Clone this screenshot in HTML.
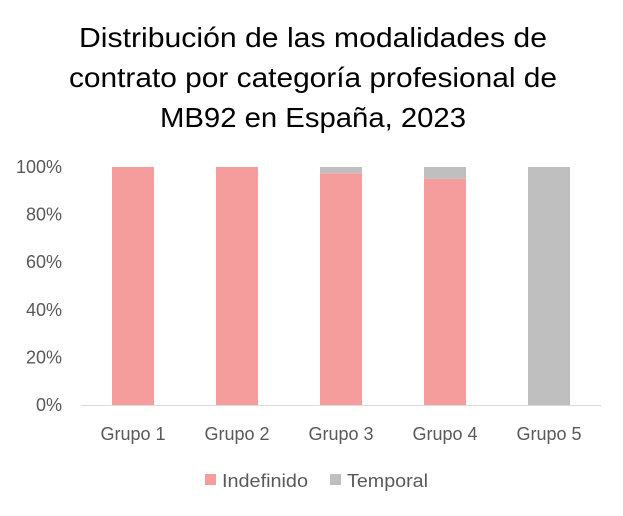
<!DOCTYPE html>
<html><head><meta charset="utf-8"><style>
body{margin:0;background:#fff;font-family:"Liberation Sans",sans-serif}
</style></head><body>
<svg width="623" height="511" xmlns="http://www.w3.org/2000/svg">
<rect width="623" height="511" fill="#fff"/>
<g font-size="28" text-anchor="middle" fill="#000">
<text x="313" y="47" textLength="468" lengthAdjust="spacingAndGlyphs">Distribución de las modalidades de</text>
<text x="313" y="87" textLength="488" lengthAdjust="spacingAndGlyphs">contrato por categoría profesional de</text>
<text x="313" y="127" textLength="306" lengthAdjust="spacingAndGlyphs">MB92 en España, 2023</text>
</g>
<g id="yaxis"></g>
<g id="bars"></g>
<line x1="81" y1="405.5" x2="601" y2="405.5" stroke="#d9d9d9"/>
<g id="xaxis"></g>
<g font-size="18" fill="#595959">
<g><rect x="205" y="474" width="11" height="11" fill="#f59d9d"/><text x="222" y="487" textLength="86" lengthAdjust="spacingAndGlyphs">Indefinido</text></g>
<g><rect x="330" y="474" width="11" height="11" fill="#bfbfbf"/><text x="347" y="487" textLength="81" lengthAdjust="spacingAndGlyphs">Temporal</text></g>
</g>
</svg>
<script>
const categories=["Grupo 1","Grupo 2","Grupo 3","Grupo 4","Grupo 5"];
const indefinido=[100,100,97.4,95,0];
const temporal=[0,0,2.6,5,100];
const yTicks=[0,20,40,60,80,100];
const ns="http://www.w3.org/2000/svg";
const y0=405,yTop=167,x0=81,step=104,bw=42;
const y=v=>y0-(y0-yTop)*v/100;
const xc=i=>x0+step*(i+0.5);
const ya=document.getElementById('yaxis'),ba=document.getElementById('bars'),xa=document.getElementById('xaxis');
yTicks.forEach(t=>{const e=document.createElementNS(ns,'text');
e.setAttribute('x',62);e.setAttribute('y',y(t)+6);e.setAttribute('text-anchor','end');
e.setAttribute('font-size','18');e.setAttribute('fill','#595959');e.textContent=t+'%';


ya.appendChild(e);});
categories.forEach((c,i)=>{
 const r1=document.createElementNS(ns,'rect');
 r1.setAttribute('x',xc(i)-bw/2);r1.setAttribute('width',bw);
 r1.setAttribute('y',y(indefinido[i]));r1.setAttribute('height',y0-y(indefinido[i]));r1.setAttribute('fill','#f59d9d');
 
 
 ba.appendChild(r1);
 const r2=document.createElementNS(ns,'rect');
 const top=y(indefinido[i]+temporal[i]);
 r2.setAttribute('x',xc(i)-bw/2);r2.setAttribute('width',bw);
 r2.setAttribute('y',top);r2.setAttribute('height',y(indefinido[i])-top);r2.setAttribute('fill','#bfbfbf');
 
 
 ba.appendChild(r2);
 const t=document.createElementNS(ns,'text');
 t.setAttribute('x',xc(i));t.setAttribute('y',440);t.setAttribute('text-anchor','middle');
 t.setAttribute('font-size','18');t.setAttribute('fill','#595959');t.textContent=c;
 
 
 xa.appendChild(t);
});
</script>
</body></html>
